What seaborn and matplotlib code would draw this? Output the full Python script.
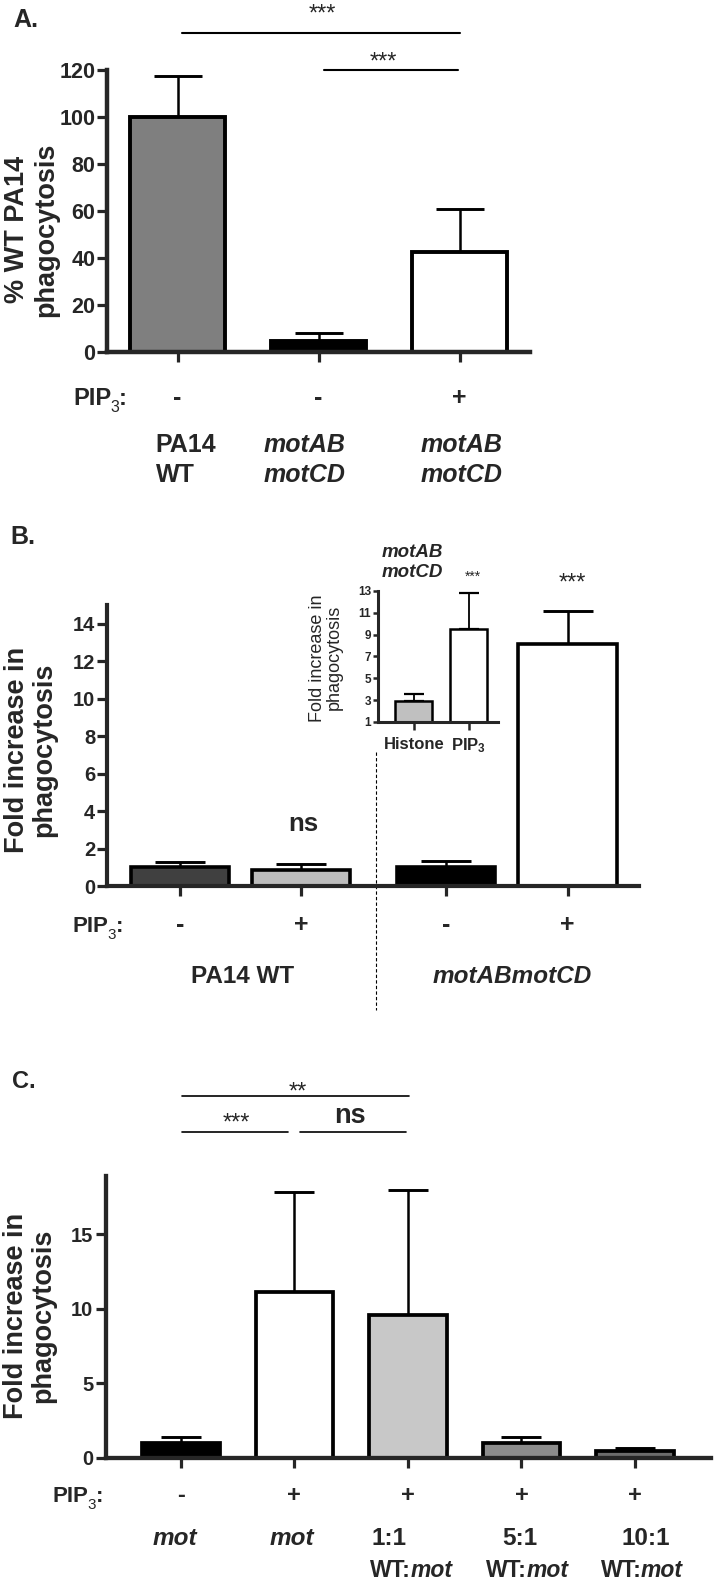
import numpy as np
import pandas as pd
import matplotlib
matplotlib.use("Agg")
import matplotlib.pyplot as plt
import matplotlib.transforms as mtransforms
from matplotlib.lines import Line2D
import seaborn as sns

# ---------------- data ----------------
# Panel A: % WT PA14 phagocytosis
a_keys = ["wt", "mot", "mot_pip3"]
a_mean = [100.0, 4.5, 42.5]
a_upper = [117.5, 8.0, 61.0]
a_pip3 = ["-", "-", "+"]
a_line1 = ["PA14", "motAB", "motAB"]
a_line2 = ["WT", "motCD", "motCD"]
a_italic = [False, True, True]
a_colors = ["#7f7f7f", "#000000", "#ffffff"]
a_yticks = [0, 20, 40, 60, 80, 100, 120]

# Panel B: fold increase
b_pos = [0.0, 1.0, 2.2, 3.2]
b_mean = [1.0, 0.88, 1.0, 12.9]
b_upper = [1.27, 1.18, 1.36, 14.7]
b_pip3 = ["-", "+", "-", "+"]
b_colors = ["#404040", "#bdbdbd", "#000000", "#ffffff"]
b_yticks = [0, 2, 4, 6, 8, 10, 12, 14]

# Panel B inset
i_labels = ["Histone", r"$\mathbf{PIP_3}$"]
i_mean = [2.9, 9.5]
i_upper = [3.6, 12.8]
i_colors = ["#c0c0c0", "#ffffff"]
i_yticks = [1, 3, 5, 7, 9, 11, 13]

# Panel C
c_keys = ["mot", "mot_pip3", "1:1", "5:1", "10:1"]
c_mean = [1.0, 11.1, 9.55, 1.0, 0.44]
c_upper = [1.36, 17.85, 17.95, 1.35, 0.64]
c_pip3 = ["-", "+", "+", "+", "+"]
c_colors = ["#000000", "#ffffff", "#c8c8c8", "#8c8c8c", "#6c6c6c"]
c_yticks = [0, 5, 10, 15]

# ---------------- style ----------------
sns.set_style("ticks")
plt.rcParams["font.family"] = ["Liberation Sans", "DejaVu Sans"]
plt.rcParams["mathtext.fontset"] = "custom"
plt.rcParams["mathtext.rm"] = "Liberation Sans:bold"
plt.rcParams["mathtext.it"] = "Liberation Sans:italic:bold"
plt.rcParams["mathtext.bf"] = "Liberation Sans:bold"

W, H = 720.0, 1586.0
fig = plt.figure(figsize=(W / 100, H / 100), dpi=100)
fig.patch.set_facecolor("white")


def px_axes(left, right, top, bottom):
    return fig.add_axes([left / W, 1 - bottom / H, (right - left) / W, (bottom - top) / H])


ax_a = px_axes(107, 530, 70, 352)
ax_b = px_axes(107, 639, 605, 886)
ax_i = px_axes(378, 498, 591, 722)
ax_c = px_axes(106, 711, 1176, 1457.5)


def draw_bars(ax, x, mean, upper, colors, lw, width, cap, elw, native=False):
    df = pd.DataFrame({"x": x, "y": mean})
    sns.barplot(data=df, x="x", y="y", hue="x", palette=dict(zip(x, colors)),
                legend=False, saturation=1, width=width, edgecolor="black",
                linewidth=lw, errorbar=None, native_scale=native, ax=ax, zorder=2)
    xs = np.asarray(x, float) if native else np.arange(len(x))
    m = np.asarray(mean)
    u = np.asarray(upper)
    ax.errorbar(xs, m, yerr=[np.zeros_like(m), u - m], fmt="none", ecolor="black",
                elinewidth=elw, capsize=cap, capthick=elw + 0.3, zorder=1)
    ax.set_xlabel("")
    sns.despine(ax=ax)
    for s in ("left", "bottom"):
        ax.spines[s].set_linewidth(lw + 0.4)
    return xs


def put(ax, x, ypx, s, **kw):
    tr = mtransforms.blended_transform_factory(ax.transData, fig.transFigure)
    kw.setdefault("va", "baseline")
    kw.setdefault("ha", "center")
    return ax.text(x, 1 - ypx / H, s, transform=tr, clip_on=False, **kw)


def fig_put(xpx, ypx, s, **kw):
    kw.setdefault("va", "baseline")
    kw.setdefault("ha", "left")
    return fig.text(xpx / W, 1 - ypx / H, s, **kw)


def follow(ax, prev, base, s, dx=0.0, dy=0.0, **kw):
    # text placed right after `prev`, sharing the bottom of `base`
    return ax.annotate(s, xy=(1, 0), xycoords=(prev, base), xytext=(dx, dy),
                       textcoords="offset points", va="bottom", ha="left",
                       annotation_clip=False, **kw)


def pip3_label(ax, xpx, ypx, size):
    t = ax.text(xpx / W, 1 - ypx / H, "PIP", transform=fig.transFigure,
                fontsize=size, fontweight="bold", va="baseline", ha="left")
    sub = follow(ax, t, t, "3", dx=-0.8, dy=-3.5, fontsize=size * 0.68)
    follow(ax, sub, t, ":", dx=-0.2, fontsize=size, fontweight="bold")


def bracket(ax, x0, x1, ypx, lw):
    tr = mtransforms.blended_transform_factory(ax.transData, fig.transFigure)
    ax.add_line(Line2D([x0, x1], [1 - ypx / H] * 2, transform=tr, color="black",
                       lw=lw, clip_on=False))


def yaxis_style(ax, ticks, size, length, width):
    ax.set_yticks(ticks)
    ax.set_yticklabels([str(t) for t in ticks], fontweight="bold", fontsize=size)
    ax.tick_params(axis="y", length=length, width=width, pad=1.5)


# ---------------- Panel A ----------------
xa = draw_bars(ax_a, a_keys, a_mean, a_upper, a_colors, 2.8, 0.67, 17, 1.8)
ax_a.set_xlim(-0.5, 2.5)
ax_a.set_ylim(0, 120)
yaxis_style(ax_a, a_yticks, 15.5, 7, 2.3)
ax_a.set_xticks(xa)
ax_a.set_xticklabels([])
ax_a.tick_params(axis="x", length=7.5, width=2.3)
ax_a.set_ylabel("% WT PA14\nphagocytosis", fontsize=19.5, fontweight="bold",
                va="center", linespacing=1.15)
ax_a.yaxis.set_label_coords(-0.178, 0.433)

fig_put(13, 27, "A.", fontsize=18, fontweight="bold")
bracket(ax_a, 0.035, 2.0, 33, 1.5)
bracket(ax_a, 1.04, 1.99, 70, 1.5)
put(ax_a, 1.03, 21, "***", fontsize=17)
put(ax_a, 1.46, 69, "***", fontsize=17)

pip3_label(ax_a, 73, 405, 17)
a_offsets = [-0.156, -0.39, -0.277]
for x, sign, l1, l2, it, off in zip(xa, a_pip3, a_line1, a_line2, a_italic, a_offsets):
    put(ax_a, x, 405, sign, fontsize=18, fontweight="bold")
    st = "italic" if it else "normal"
    put(ax_a, x + off, 452, l1, ha="left", fontsize=18, fontweight="bold", fontstyle=st)
    put(ax_a, x + off, 482, l2, ha="left", fontsize=18, fontweight="bold", fontstyle=st)

# ---------------- Panel B ----------------
xb = draw_bars(ax_b, b_pos, b_mean, b_upper, b_colors, 2.6, 0.81, 18, 1.8, native=True)
ax_b.set_xlim(-0.6, 3.79)
ax_b.set_ylim(0, 15)
yaxis_style(ax_b, b_yticks, 14.5, 7, 2.3)
ax_b.set_xticks(xb)
ax_b.set_xticklabels([])
ax_b.tick_params(axis="x", length=7.5, width=2.3)
ax_b.set_ylabel("Fold increase in\nphagocytosis", fontsize=19.5, fontweight="bold",
                va="center", linespacing=1.05)
ax_b.yaxis.set_label_coords(-0.143, 0.484)

fig_put(10, 544, "B.", fontsize=18, fontweight="bold")
put(ax_b, 1.02, 831, "ns", fontsize=18.5, fontweight="bold")
put(ax_b, 3.24, 590, "***", fontsize=17)
pip3_label(ax_b, 73, 932, 16)
for x, sign in zip(xb, b_pip3):
    put(ax_b, x, 932, sign, fontsize=18, fontweight="bold")
put(ax_b, 0.52, 983, "PA14 WT", fontsize=17.5, fontweight="bold")
put(ax_b, 2.74, 983, "motABmotCD", fontsize=17.5, fontweight="bold", fontstyle="italic")
trb = mtransforms.blended_transform_factory(ax_b.transData, fig.transFigure)
ax_b.add_line(Line2D([1.62, 1.62], [1 - 752 / H, 1 - 1010 / H], transform=trb,
                     color="black", lw=0.8, ls=(0, (3, 2)), clip_on=False))

# inset
xi = draw_bars(ax_i, i_labels, i_mean, i_upper, i_colors, 1.8, 0.67, 7.5, 1.3)
ax_i.set_xlim(-0.65, 1.53)
ax_i.set_ylim(1, 13)
yaxis_style(ax_i, i_yticks, 8.5, 3.5, 1.8)
ax_i.set_xticks(xi)
ax_i.set_xticklabels(i_labels, fontweight="bold", fontsize=12)
ax_i.tick_params(axis="x", length=5.5, width=1.8, pad=5)
ax_i.set_ylabel("Fold increase in\nphagocytosis", fontsize=13, va="center",
                linespacing=0.95)
ax_i.yaxis.set_label_coords(-0.433, 0.49)
ax_i.patch.set_alpha(0)
put(ax_i, -0.58, 557, "motAB", ha="left", fontsize=13.5, fontweight="bold", fontstyle="italic")
put(ax_i, -0.58, 577, "motCD", ha="left", fontsize=13.5, fontweight="bold", fontstyle="italic")
put(ax_i, 1.07, 581, "***", fontsize=10)

# ---------------- Panel C ----------------
xc = draw_bars(ax_c, c_keys, c_mean, c_upper, c_colors, 2.7, 0.68, 14.5, 1.8)
ax_c.set_xlim(-0.66, 4.67)
ax_c.set_ylim(0, 18.9)
yaxis_style(ax_c, c_yticks, 14.5, 7.5, 2.3)
ax_c.set_xticks(xc)
ax_c.set_xticklabels([])
ax_c.tick_params(axis="x", length=7.5, width=2.3)
ax_c.set_ylabel("Fold increase in\nphagocytosis", fontsize=19.5, fontweight="bold",
                va="center", linespacing=1.05)
ax_c.yaxis.set_label_coords(-0.126, 0.503)

fig_put(12, 1088, "C.", fontsize=17, fontweight="bold")
bracket(ax_c, 0.01, 2.01, 1096, 1.2)
bracket(ax_c, 0.01, 0.94, 1132, 1.2)
bracket(ax_c, 1.05, 1.98, 1132, 1.2)
put(ax_c, 1.03, 1099, "**", fontsize=17)
put(ax_c, 0.49, 1130, "***", fontsize=17)
put(ax_c, 1.49, 1123, "ns", fontsize=19.5, fontweight="bold")

pip3_label(ax_c, 53, 1502, 16)
for x, sign in zip(xc, c_pip3):
    put(ax_c, x, 1502, sign, fontsize=17, fontweight="bold")

c_row1 = ["mot", "mot", "1:1", "5:1", "10:1"]
c_row1_italic = [True, True, False, False, False]
c_row1_off = [-0.05, -0.02, -0.32, -0.17, -0.12]
c_row1_ha = ["center", "center", "left", "left", "left"]
for x, s, it, off, ha in zip(xc, c_row1, c_row1_italic, c_row1_off, c_row1_ha):
    put(ax_c, x + off, 1545, s, ha=ha, fontsize=17.5, fontweight="bold",
        fontstyle="italic" if it else "normal")
c_row2_off = [None, None, -0.33, -0.31, -0.30]
for x, off in zip(xc, c_row2_off):
    if off is None:
        continue
    wt = put(ax_c, x + off, 1577, "WT:", ha="left", fontsize=16.5, fontweight="bold")
    follow(ax_c, wt, wt, "mot", dx=-0.5, fontsize=16.5, fontweight="bold", fontstyle="italic")

fig.savefig("out.png", dpi=100, facecolor="white")
